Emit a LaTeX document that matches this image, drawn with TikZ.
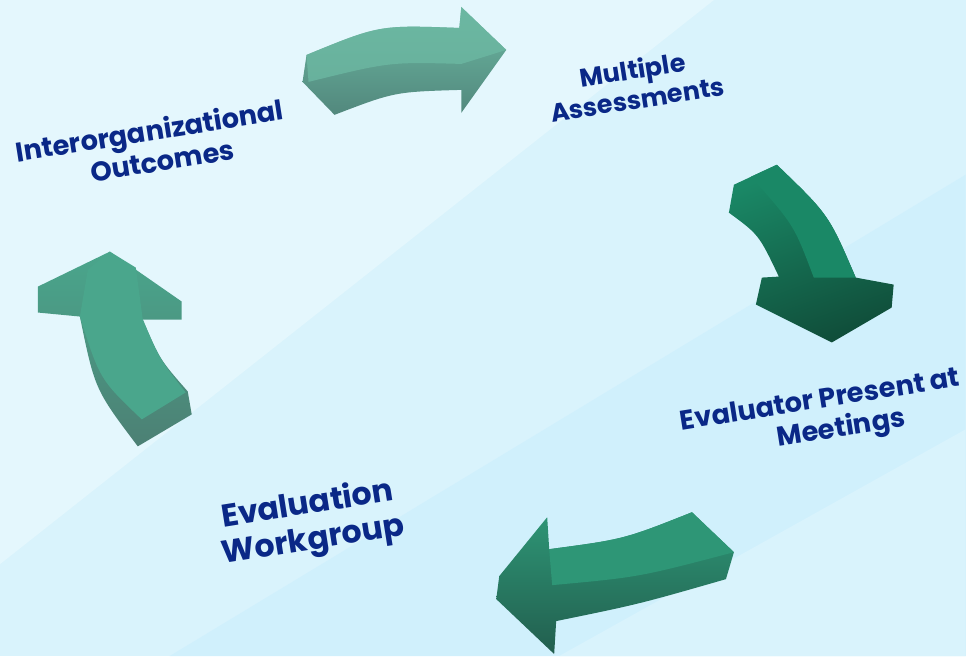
\documentclass[tikz,border=0pt]{standalone}
\usepackage{fontspec}
\newfontfamily\labelfont{Poppins}
\definecolor{labelblue}{RGB}{10,40,135}
\definecolor{bgbase}{RGB}{217,243,252}
\definecolor{bglight}{RGB}{228,247,253}
\definecolor{bgdeep}{RGB}{208,240,252}
\definecolor{paleface}{RGB}{108,184,162}
\definecolor{paleside}{RGB}{82,136,125}
\definecolor{darkface}{RGB}{26,136,102}
\definecolor{darkside}{RGB}{16,78,58}
\definecolor{midface}{RGB}{46,150,118}
\definecolor{midside}{RGB}{34,94,78}
\definecolor{leftface}{RGB}{74,166,140}
\definecolor{leftside}{RGB}{76,128,116}
\begin{document}
\begin{tikzpicture}
	[x=0.02cm,y=-0.02cm,
	 cycle label/.style 2 args={font=\labelfont\bfseries\fontsize{#1}{#2}\selectfont,text=labelblue,align=center,rotate=9,inner sep=0pt},
	 bent arrow/.style 2 args={top color=#1,bottom color=#2,draw=none}]
	\fill[bgbase] (0,0) rectangle (967,657);
	\fill[bglight] (0,0)--(715,0)--(0,565)--cycle;
	\fill[bgdeep] (967,175)--(967,657)--(170,657)--cycle;
	\fill[bgbase] (967,430)--(967,657)--(560,657)--cycle;
	% top arrow
	\shade[bent arrow={paleface}{paleside}]
		(307,55) .. controls (380,25) .. (460,28) -- (462,7) -- (507,50) -- (462,113)
		-- (462,90) .. controls (395,92) .. (335,115) -- (303,82) -- cycle;
	\fill[paleface,opacity=0.8] (307,55) .. controls (380,25) .. (460,28) -- (462,7) -- (507,50)
		-- (462,64) .. controls (390,62) .. (309,82) -- cycle;
	% right arrow
	\shade[bent arrow={darkface}{darkside},shading angle=20]
		(735,185) -- (778,165) .. controls (830,215) .. (857,278) -- (895,285) -- (893,308)
		-- (833,343) -- (757,305) -- (763,278) -- (780,277) .. controls (760,235) .. (730,213) -- cycle;
	\fill[darkface] (752,177) -- (778,165) .. controls (830,215) .. (857,278)
		-- (815,278) .. controls (795,225) .. (752,177) -- cycle;
	% bottom arrow
	\shade[bent arrow={midface}{midside}]
		(693,513) -- (735,553) -- (727,580) .. controls (640,605) .. (557,622) -- (555,655)
		-- (497,600) -- (500,577) -- (548,518) -- (550,550) .. controls (625,540) .. (693,513) -- cycle;
	\fill[midface] (693,513) -- (735,553) .. controls (640,578) .. (553,586)
		-- (550,550) .. controls (625,540) .. (693,513) -- cycle;
	% left arrow
	\shade[bent arrow={leftface}{leftside}]
		(110,252) -- (182,302) -- (182,320) -- (143,320) .. controls (160,360) .. (188,392)
		-- (192,415) -- (138,447) .. controls (95,390) .. (80,317) -- (38,313) -- (38,287) -- cycle;
	\fill[leftface] (88,270) -- (110,252) -- (136,268) -- (143,320) .. controls (160,360) .. (186,393)
		-- (142,420) .. controls (100,380) .. (80,317) -- cycle;
	\node[cycle label={15.5}{18}] (outcomes) at (152,146) {Interorganizational\\\hspace*{0.6em}Outcomes};
	\node[cycle label={14.5}{17}] (assess) at (636,84) {Multiple\\Assessments};
	\node[cycle label={15.5}{18}] (meetings) at (824,418) {Evaluator Present at\\\hspace*{1.2em}Meetings};
	\node[cycle label={18}{20.5}] (workgroup) at (311,524) {Evaluation\\Workgroup};
\end{tikzpicture}
\end{document}
